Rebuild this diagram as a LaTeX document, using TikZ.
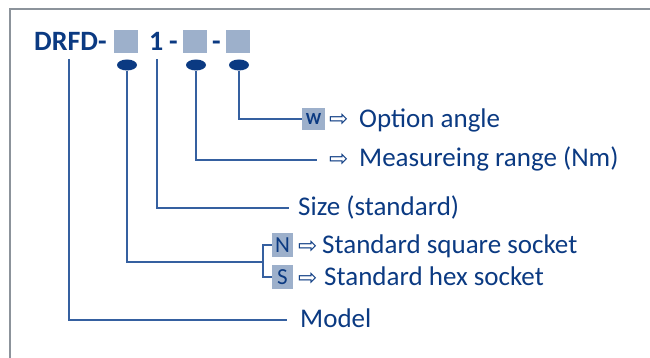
\documentclass[tikz,border=0pt]{standalone}
\usepackage{fontspec}
\setmainfont{Carlito}
\newfontfamily\symfont{DejaVu Sans}
\usetikzlibrary{shapes.geometric}
\definecolor{codeblue}{HTML}{0B3A82}
\definecolor{leadblue}{HTML}{3560A0}
\definecolor{slotgray}{HTML}{9DB0CB}
\definecolor{framegray}{HTML}{8C939B}

\begin{document}
\begin{tikzpicture}[
    x=1pt, y=-1pt,
    code/.style={anchor=base west, inner sep=0pt, text=codeblue, font=\fontsize{28}{30}\selectfont\bfseries},
    slot/.style={fill=slotgray, inner sep=0pt, minimum width=24pt, minimum height=23pt, text=codeblue},
    dot/.style={ellipse, fill=codeblue, inner sep=0pt, minimum width=20pt, minimum height=11pt},
    desc/.style={anchor=base west, inner sep=0pt, text=codeblue, font=\fontsize{27}{29}\selectfont},
    hint/.style={anchor=base west, inner sep=0pt, text=codeblue, font=\symfont\fontsize{23}{24}\selectfont},
    lead/.style={draw=leadblue, line width=1.5pt},
]
    \useasboundingbox (0,0) rectangle (650,358);
    % frame
    \draw[framegray, line width=2pt] (9.5,358) -- (9.5,9.5) -- (650,9.5);

    % order code
    \node[code] (drfd) at (34,50.5) {DRFD-};
    \node[slot] (slotA) at (126,41.5) {};
    \node[code] (one) at (149,50.5) {1};
    \node[code] at (169,50.5) {-};
    \node[slot] (slotB) at (195,41.5) {};
    \node[code] at (212,50.5) {-};
    \node[slot] (slotC) at (238,41.5) {};

    % markers
    \node[dot] (dotA) at (127,65) {};
    \node[dot] (dotB) at (196,65) {};
    \node[dot] (dotC) at (239,65) {};
    \coordinate (modelTop) at (69,59);
    \coordinate (sizeTop) at (157,59);

    % descriptions
    \node[slot, minimum width=23pt, minimum height=22pt, font=\fontsize{17}{18}\selectfont\bfseries] (slotW) at (313.5,119) {W};
    \node[hint] (arrW) at (329,127) {⇨};
    \node[desc] (angle) at (359,128) {Option angle};

    \node[hint] (arrR) at (329,167) {⇨};
    \node[desc] (range) at (359,167) {Measureing range (Nm)};
    \coordinate (rangeEnd) at (317,160);

    \node[desc] (size) at (298,215) {Size (standard)};
    \coordinate (sizeEnd) at (289,208);

    \node[slot, minimum width=21pt, minimum height=24pt, font=\fontsize{23}{24}\selectfont] (slotN) at (282.5,245) {N};
    \node[hint] (arrN) at (298,253) {⇨};
    \node[desc] (square) at (322,253) {Standard square socket};
    \node[slot, minimum width=21pt, minimum height=24pt, font=\fontsize{23}{24}\selectfont] (slotS) at (282.5,277) {S};
    \node[hint] (arrS) at (298,285) {⇨};
    \node[desc] (hex) at (324,285) {Standard hex socket};
    \coordinate (fork) at (263,262);

    \node[desc] (model) at (300,327) {Model};
    \coordinate (modelEnd) at (287,320);

    % leads
    \draw[lead] (dotC.south) |- (slotW.west);
    \draw[lead] (dotB.south) |- (rangeEnd);
    \draw[lead] (sizeTop) |- (sizeEnd);
    \draw[lead] (dotA.south) |- (fork);
    \draw[lead] (slotN.west) -| (fork) |- (slotS.west);
    \draw[lead] (modelTop) |- (modelEnd);
\end{tikzpicture}
\end{document}
